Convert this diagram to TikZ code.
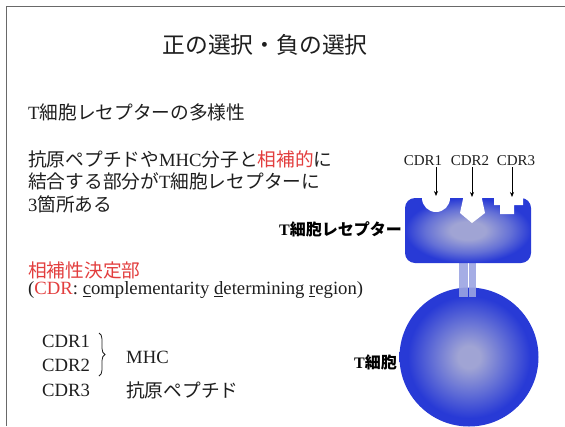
\documentclass[tikz,border=0pt]{standalone}
\usepackage{fontspec}
\setmainfont{Liberation Serif}
\newfontfamily\cjk{Noto Sans CJK JP}
\usetikzlibrary{arrows.meta,decorations.pathreplacing}

\newcommand\jp[1]{{\cjk #1}}

\definecolor{ink}{RGB}{30,30,30}
\definecolor{hired}{RGB}{226,62,62}
\definecolor{framegray}{RGB}{105,105,105}
\definecolor{blueEdge}{RGB}{40,58,214}
\definecolor{blueMid}{RGB}{100,112,214}
\definecolor{blueCore}{RGB}{160,164,212}
\definecolor{stalkblue}{RGB}{155,164,226}

% light core fading out to a saturated blue rim (25bp = edge of the shaded path)
\pgfdeclareradialshading{cellball}{\pgfpoint{0bp}{0bp}}{%
  color(0bp)=(blueCore); color(4bp)=(blueCore);
  color(13bp)=(blueMid); color(22bp)=(blueEdge); color(50bp)=(blueEdge)}
% flatter variant for the receptor head: wider pale centre
\pgfdeclareradialshading{headglow}{\pgfpoint{0bp}{0bp}}{%
  color(0bp)=(blueCore); color(7bp)=(blueCore);
  color(17bp)=(blueMid); color(25bp)=(blueEdge); color(50bp)=(blueEdge)}

\tikzset{
  body/.style={font=\fontsize{18.7}{22.5}\selectfont, inner sep=0pt, text=ink},
  small/.style={font=\fontsize{15}{18}\selectfont, inner sep=0pt, text=ink},
  tag/.style={font=\fontsize{16}{19}\selectfont\bfseries, inner sep=0pt, text=black},
  pointer/.style={-{Stealth[length=5pt,width=4pt]}, line width=0.7pt, black},
  notch/.style={fill=white},
  stalk/.style={fill=stalkblue, fill opacity=0.9},
}

\begin{document}
\begin{tikzpicture}[x=1pt,y=-1pt]
\useasboundingbox (0,0) rectangle (565,426);

% slide frame
\draw[framegray, line width=1.4pt] (6.5,426) -- (6.5,6.5) -- (565,6.5);

% title
\node[font=\fontsize{22.8}{27}\selectfont, inner sep=0pt, text=ink] (title) at (265,45) {\jp{正の選択・負の選択}};

% left-hand text
\node[body, anchor=west] (head) at (28,112) {T\jp{細胞レセプターの多様性}};
\node[body, anchor=west, align=left] (para) at (28,181.5)
  {\jp{抗原ペプチドや}MHC\jp{分子と}\textcolor{hired}{\jp{相補的}}\jp{に}\\
   \jp{結合する部分が}T\jp{細胞レセプターに}\\
   3\jp{箇所ある}};
\node[body, anchor=west, text=hired] (cdrhead) at (28,270) {\jp{相補性決定部}};
\node[body, anchor=west] (cdrfull) at (28,290)
  {(\textcolor{hired}{CDR}: \underline{c}omplementarity \underline{d}etermining \underline{r}egion)};

\node[body, anchor=west] (c1) at (42,341.5) {CDR1};
\node[body, anchor=west] (c2) at (42,365) {CDR2};
\node[body, anchor=west] (c3) at (42,390) {CDR3};
\coordinate (bt) at (99,333);
\coordinate (bb) at (99,376);
\draw[ink, line width=0.8pt, decorate, decoration={brace, amplitude=6pt}] (bt) -- (bb);
\node[body, anchor=west] (mhc) at (126,357) {MHC};
\node[body, anchor=west] (pep) at (126,390) {\jp{抗原ペプチド}};

% T cell body
\node[circle, minimum size=139pt, inner sep=0pt, shade, shading=cellball] (cell) at (469,357) {};

% stalk joining receptor and cell
\fill[stalk] (459,262) rectangle (467.5,297);
\fill[stalk] (468.5,262) rectangle (476,297);

% receptor head
\node[rectangle, rounded corners=10pt, minimum width=126pt, minimum height=65pt, inner sep=0pt,
      shade, shading=headglow] (tcr) at (468,230.5) {};

% binding pockets cut into the receptor
\fill[notch] (422,196) -- (422,198) arc[start angle=180, end angle=0, radius=14] -- (450,196) -- cycle;
\fill[notch] (463,196) -- (463,199) -- (460,213) -- (472,223) -- (485,213) -- (482,199) -- (482,196) -- cycle;
\fill[notch] (494,196) -- (494,205) -- (500,205) -- (500,214) -- (514,214) -- (514,205)
  -- (523,205) -- (523,196) -- cycle;

\coordinate (p1) at (436,196);
\coordinate (p2) at (472,197);
\coordinate (p3) at (512,197);

% pocket labels
\node[small] (l1) at (423,161) {CDR1};
\node[small] (l2) at (470,161) {CDR2};
\node[small] (l3) at (516,161) {CDR3};
\draw[pointer] (l1.south -| p1) ++(0,1) -- (p1);
\draw[pointer] (l2.south -| p2) ++(0,1) -- (p2);
\draw[pointer] (l3.south -| p3) ++(0,1) -- (p3);

% part names
\node[tag, anchor=east] (tcrname) at (402,229) {T\jp{細胞レセプター}};
\node[tag, anchor=east] (cellname) at (397,362) {T\jp{細胞}};
\end{tikzpicture}
\end{document}
